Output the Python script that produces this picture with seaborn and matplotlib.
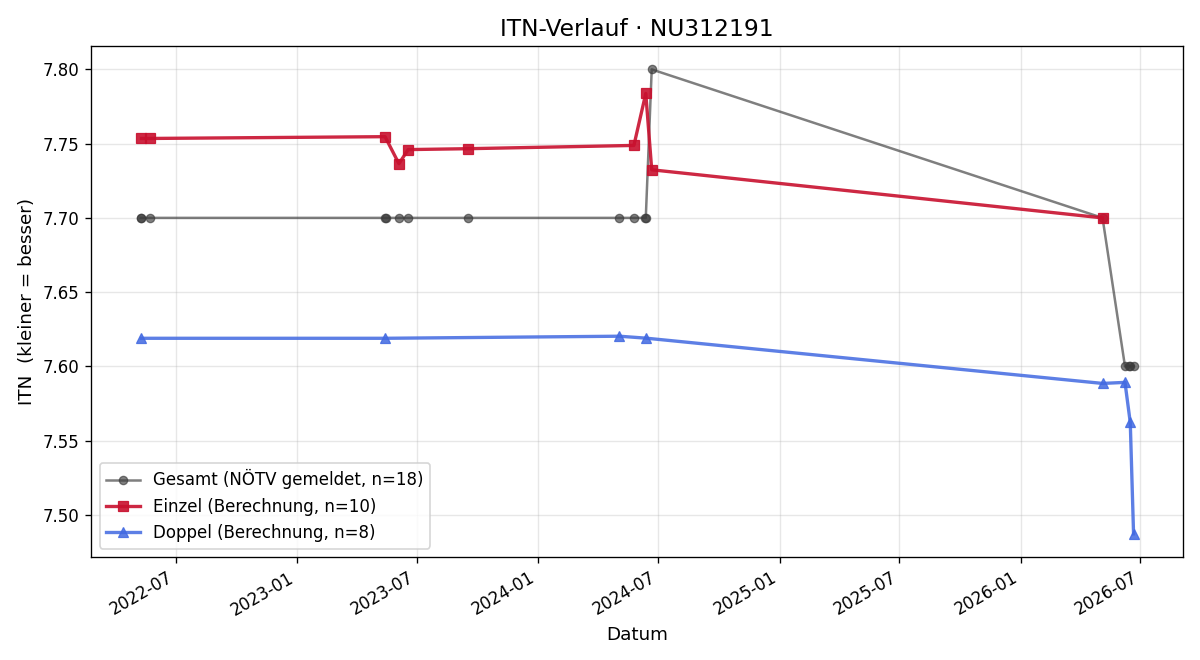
import pandas as pd
import matplotlib
matplotlib.use("Agg")
import matplotlib.pyplot as plt
import matplotlib.dates as mdates
import seaborn as sns

# values
gesamt_dates = ["2022-05-09", "2022-05-10", "2022-05-23", "2023-05-14", "2023-05-15",
                "2023-06-04", "2023-06-18", "2023-09-16", "2024-05-03", "2024-05-25",
                "2024-06-11", "2024-06-12", "2024-06-21", "2026-05-05", "2026-06-08",
                "2026-06-14", "2026-06-16", "2026-06-21"]
gesamt_itn = [7.70, 7.70, 7.70, 7.70, 7.70, 7.70, 7.70, 7.70, 7.70, 7.70,
              7.70, 7.70, 7.80, 7.70, 7.60, 7.60, 7.60, 7.60]

einzel_dates = ["2022-05-10", "2022-05-23", "2023-05-14", "2023-06-04", "2023-06-18",
                "2023-09-16", "2024-05-25", "2024-06-12", "2024-06-21", "2026-05-05"]
einzel_itn = [7.7535, 7.7535, 7.7547, 7.7365, 7.7460, 7.7466, 7.7488, 7.7838, 7.7324, 7.7000]

doppel_dates = ["2022-05-10", "2023-05-14", "2024-05-03", "2024-06-12",
                "2026-05-05", "2026-06-08", "2026-06-16", "2026-06-21"]
doppel_itn = [7.6189, 7.6189, 7.6203, 7.6190, 7.5885, 7.5892, 7.5622, 7.4872]


def make_frame(dates, values):
    return pd.DataFrame({"Datum": pd.to_datetime(dates), "ITN": values})


def plot_chart():
    fig, ax = plt.subplots(figsize=(10, 5.5), dpi=120)

    sns.lineplot(data=make_frame(gesamt_dates, gesamt_itn), x="Datum", y="ITN",
                 ax=ax, color="#3a3a3a", alpha=0.65, marker="o", markersize=5,
                 linewidth=1.5, estimator=None, markeredgecolor="#3a3a3a",
                 label="Gesamt (NÖTV gemeldet, n=18)")
    sns.lineplot(data=make_frame(einzel_dates, einzel_itn), x="Datum", y="ITN",
                 ax=ax, color="#c8102e", alpha=0.9, marker="s", markersize=6,
                 linewidth=2, estimator=None, markeredgecolor="#c8102e",
                 label="Einzel (Berechnung, n=10)")
    sns.lineplot(data=make_frame(doppel_dates, doppel_itn), x="Datum", y="ITN",
                 ax=ax, color="#4169e1", alpha=0.85, marker="^", markersize=6,
                 linewidth=2, estimator=None, markeredgecolor="#4169e1",
                 label="Doppel (Berechnung, n=8)")

    ax.set_title("ITN-Verlauf · NU312191", fontsize=14)
    ax.set_xlabel("Datum", fontsize=11)
    ax.set_ylabel("ITN  (kleiner = besser)", fontsize=11)
    ax.grid(True, alpha=0.3)
    ax.xaxis.set_major_locator(mdates.MonthLocator(bymonth=[1, 7]))
    ax.xaxis.set_major_formatter(mdates.DateFormatter("%Y-%m"))
    ax.legend(loc="lower left", fontsize=10)
    fig.autofmt_xdate()
    fig.subplots_adjust(left=0.076, right=0.986, top=0.93, bottom=0.156)
    fig.savefig("out.png")
    plt.close(fig)


if __name__ == "__main__":
    plot_chart()
